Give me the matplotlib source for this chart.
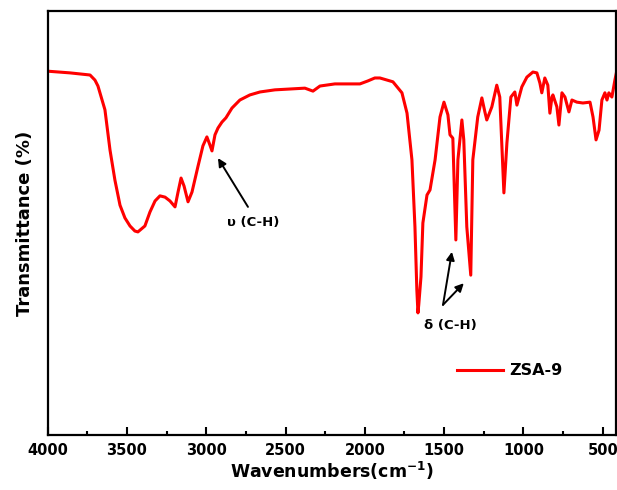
import matplotlib
matplotlib.use('Agg')
import matplotlib.pyplot as plt
from matplotlib.lines import Line2D

# FTIR spectrum of ZSA-9
wavenumbers = [4000, 3859, 3733, 3702, 3683, 3639, 3607, 3576, 3544, 3513, 3481, 3450, 3431,
               3387, 3355, 3323, 3292, 3260, 3229, 3197, 3178, 3159, 3140, 3115, 3090, 3052,
               3021, 2996, 2977, 2964, 2945, 2926, 2901, 2876, 2838, 2788, 2725, 2661, 2567,
               2472, 2378, 2327, 2283, 2189, 2094, 2031, 1981, 1937, 1905, 1823, 1766, 1734,
               1703, 1684, 1672, 1665, 1660, 1646, 1634, 1608, 1589, 1557, 1526, 1501, 1476,
               1463, 1445, 1426, 1413, 1388, 1376, 1357, 1332, 1319, 1288, 1262, 1243, 1231,
               1199, 1168, 1149, 1123, 1104, 1079, 1054, 1041, 1010, 978, 940, 915, 896, 884,
               865, 846, 833, 820, 814, 789, 776, 757, 738, 713, 694, 663, 625, 580, 561, 542,
               523, 505, 486, 473, 461, 442, 423, 410]
transmittance = [85.8, 85.4, 84.9, 83.7, 82.3, 76.7, 67.2, 60.1, 54.2, 51.2, 49.3, 48.1, 47.9,
                 49.3, 52.6, 55.2, 56.4, 56.1, 55.2, 53.8, 57.3, 60.6, 58.7, 55.0, 57.3, 63.4,
                 68.2, 70.3, 68.4, 67.0, 70.8, 72.4, 73.8, 74.8, 77.1, 79.0, 80.2, 80.9, 81.4,
                 81.6, 81.8, 81.1, 82.3, 82.8, 82.8, 82.8, 83.5, 84.2, 84.2, 83.3, 80.7, 75.9,
                 64.9, 49.1, 34.2, 28.8, 30.7, 37.3, 50.0, 56.6, 57.8, 64.9, 75.0, 78.5, 75.5,
                 70.8, 70.0, 46.0, 64.9, 74.3, 69.6, 49.1, 37.7, 64.9, 75.0, 79.5, 76.2, 74.3,
                 77.4, 82.5, 79.7, 57.1, 68.9, 79.7, 80.9, 77.8, 82.1, 84.4, 85.6, 85.4, 83.0, 80.7,
                 84.2, 82.5, 75.9, 79.7, 80.2, 77.4, 73.1, 80.7, 79.7, 76.2, 79.0, 78.5, 78.3, 78.5,
                 75.0, 69.6, 71.9, 79.0, 80.7, 79.0, 80.7, 79.7, 83.7, 86.1]
seriesName = 'ZSA-9'
xTicks = [4000, 3500, 3000, 2500, 2000, 1500, 1000, 500]

plt.rcParams['font.family'] = ['DejaVu Sans']
plt.rcParams['font.weight'] = 'bold'

fig = plt.figure(figsize=(6.17, 4.90), dpi=100)
ax = fig.add_axes([0.0773, 0.1122, 0.9211, 0.8654])

ax.plot(wavenumbers, transmittance, color='red', linewidth=2.2,
        solid_joinstyle='round', solid_capstyle='round')

ax.set_xlim(4000, 416)
ax.set_ylim(0, 100)
ax.set_xticks(xTicks)
ax.set_xticks([v - 250 for v in xTicks[:-1]], minor=True)
ax.set_yticks([])
ax.tick_params(axis='x', which='major', direction='in', length=6, width=1.5,
               labelsize=10.5, pad=6)
ax.tick_params(axis='x', which='minor', direction='in', length=3, width=1.5)
for label in ax.get_xticklabels():
    label.set_fontweight('bold')
for spine in ax.spines.values():
    spine.set_linewidth(1.6)

ax.set_xlabel('Wavenumbers(cm$^{\\mathbf{-1}}$)', fontsize=12.5, fontweight='bold', labelpad=1)
ax.set_ylabel('Transmittance (%)', fontsize=13, fontweight='bold', labelpad=10)

# peak annotations
arrowStyle = dict(arrowstyle='-|>', color='black', lw=1.4, mutation_scale=12, shrinkA=0, shrinkB=0)
ax.annotate('', xy=(2926, 65.3), xytext=(2737, 53.8), arrowprops=arrowStyle)
ax.text(2705, 50.0, '\u03c5 (C-H)', ha='center', va='center', fontsize=9.5, fontweight='bold')
ax.annotate('', xy=(1451, 43.2), xytext=(1507, 30.7), arrowprops=arrowStyle)
ax.annotate('', xy=(1376, 35.8), xytext=(1507, 30.7), arrowprops=arrowStyle)
ax.text(1463, 25.9, '\u03b4 (C-H)', ha='center', va='center', fontsize=9.5, fontweight='bold')

handle = Line2D([], [], color='red', linewidth=2.2)
ax.legend([handle], [seriesName], loc='center left', bbox_to_anchor=(0.72, 0.151),
          frameon=False, borderaxespad=0, borderpad=0, handlelength=2.9,
          handletextpad=0.35, prop={'weight': 'bold', 'size': 11.5})

fig.savefig('out.png', dpi=100)
